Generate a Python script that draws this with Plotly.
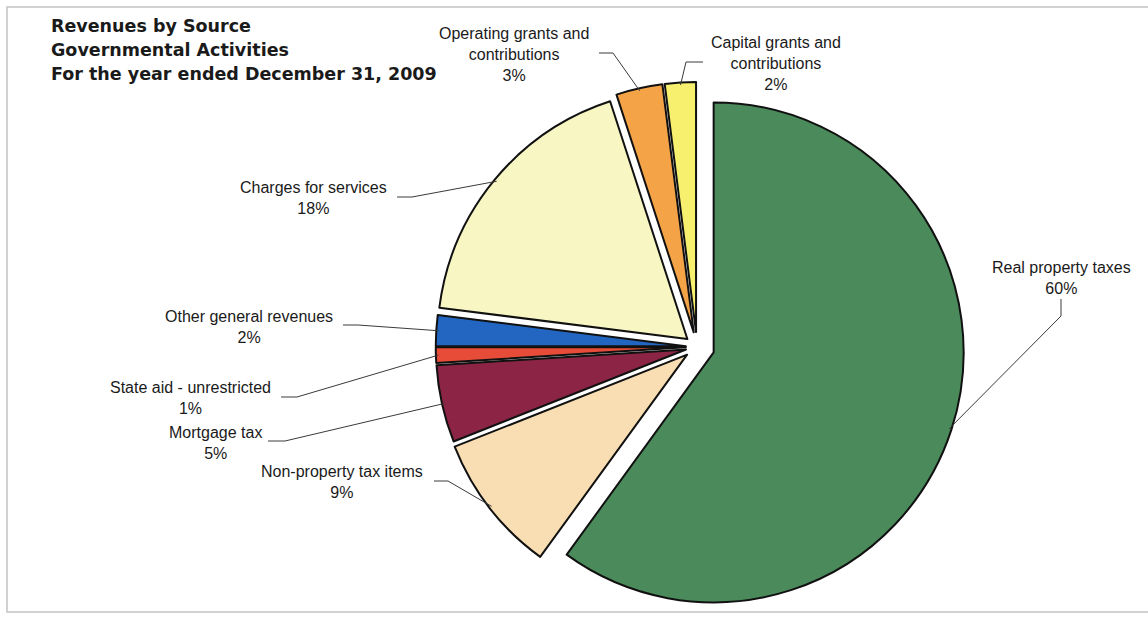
import math
import plotly.graph_objects as go

# Revenue sources, listed clockwise from 12 o'clock
categories = [
    "Real property taxes",
    "Non-property tax items",
    "Mortgage tax",
    "State aid - unrestricted",
    "Other general revenues",
    "Charges for services",
    "Operating grants and contributions",
    "Capital grants and contributions",
]
shares = [60, 9, 5, 1, 2, 18, 3, 2]  # percent of governmental revenues
label_names = [
    "Real property taxes",
    "Non-property tax items",
    "Mortgage tax",
    "State aid - unrestricted",
    "Other general revenues",
    "Charges for services",
    "Operating grants and<br>contributions",
    "Capital grants and<br>contributions",
]
title_lines = [
    "Revenues by Source",
    "Governmental Activities",
    "For the year ended December 31, 2009",
]

slice_colors = ["#4b8b5b", "#f8deb2", "#8c2545", "#e64c38",
                "#2266c2", "#f8f6c2", "#f4a346", "#f7f06e"]
pulls = [0.07, 0.05, 0.045, 0.045, 0.045, 0.05, 0.06, 0.06]

# Canvas and pie geometry (pixels)
W, H = 1148, 619
CX, CY, R = 697, 347, 250

# label block centres and the two label-side points of each leader line
label_pos = [(1061, 278), (342, 482), (215, 443), (190, 398),
             (249, 327), (314, 198), (514, 54), (776, 64)]
leader_start = [((1061, 299), (1061, 316)), ((434, 481), (448, 481)),
                ((268, 441), (285, 441)), ((281, 397), (297, 397)),
                ((343, 325), (358, 325)), ((397, 197), (412, 197)),
                ((599, 53), (613, 53)), ((703, 62), (686, 62))]


def px(x):
    return x / W


def py(y):
    return 1 - y / H


half = R * (1 + max(pulls))
dom_x = [px(CX - half - 60), px(CX + half + 60)]
dom_y = [py(CY + half), py(CY - half)]

fig = go.Figure(go.Pie(
    labels=categories,
    values=shares,
    sort=False,
    direction="clockwise",
    rotation=0,
    pull=pulls,
    textinfo="none",
    marker=dict(colors=slice_colors, line=dict(color="#111111", width=2)),
    domain=dict(x=dom_x, y=dom_y),
    hovertemplate="%{label}: %{value}%<extra></extra>",
))

annotations = []
shapes = []

# slice labels with leader lines running to each slice's mid-angle
total = sum(shares)
cum = 0
for i, v in enumerate(shares):
    theta = math.radians(90 - 360 * (cum + v / 2) / total)
    cum += v
    reach = (pulls[i] + 0.99) * R
    ex = CX + reach * math.cos(theta)
    ey = CY - reach * math.sin(theta)
    (sx, sy), (bx, by) = leader_start[i]
    shapes.append(dict(
        type="path", xref="paper", yref="paper",
        path=f"M {px(sx)} {py(sy)} L {px(bx)} {py(by)} L {px(ex)} {py(ey)}",
        line=dict(color="#3a3a3a", width=1),
    ))
    lx, ly = label_pos[i]
    annotations.append(dict(
        x=px(lx), y=py(ly), xref="paper", yref="paper",
        text=f"{label_names[i]}<br>{v}%", showarrow=False,
        xanchor="center", yanchor="middle", align="center",
        font=dict(family="Liberation Sans, Arial, sans-serif", size=16, color="#1a1a1a"),
    ))

# chart title, one line per annotation
for j, line in enumerate(title_lines):
    annotations.append(dict(
        x=px(49), y=py(26 + 24 * j), xref="paper", yref="paper",
        text=f"<b>{line}</b>", showarrow=False,
        xanchor="left", yanchor="middle", align="left",
        font=dict(family="DejaVu Sans, sans-serif", size=17.5, color="#1a1a1a"),
    ))

# light frame around the chart area
shapes.append(dict(
    type="rect", xref="paper", yref="paper",
    x0=px(7), x1=px(1160), y0=py(612), y1=py(7),
    line=dict(color="#c4c4c4", width=1.5), layer="below",
))

fig.update_layout(
    width=W, height=H,
    margin=dict(l=0, r=0, t=0, b=0),
    paper_bgcolor="white", plot_bgcolor="white",
    showlegend=False,
    annotations=annotations,
    shapes=shapes,
)

fig.write_html("out.html")
